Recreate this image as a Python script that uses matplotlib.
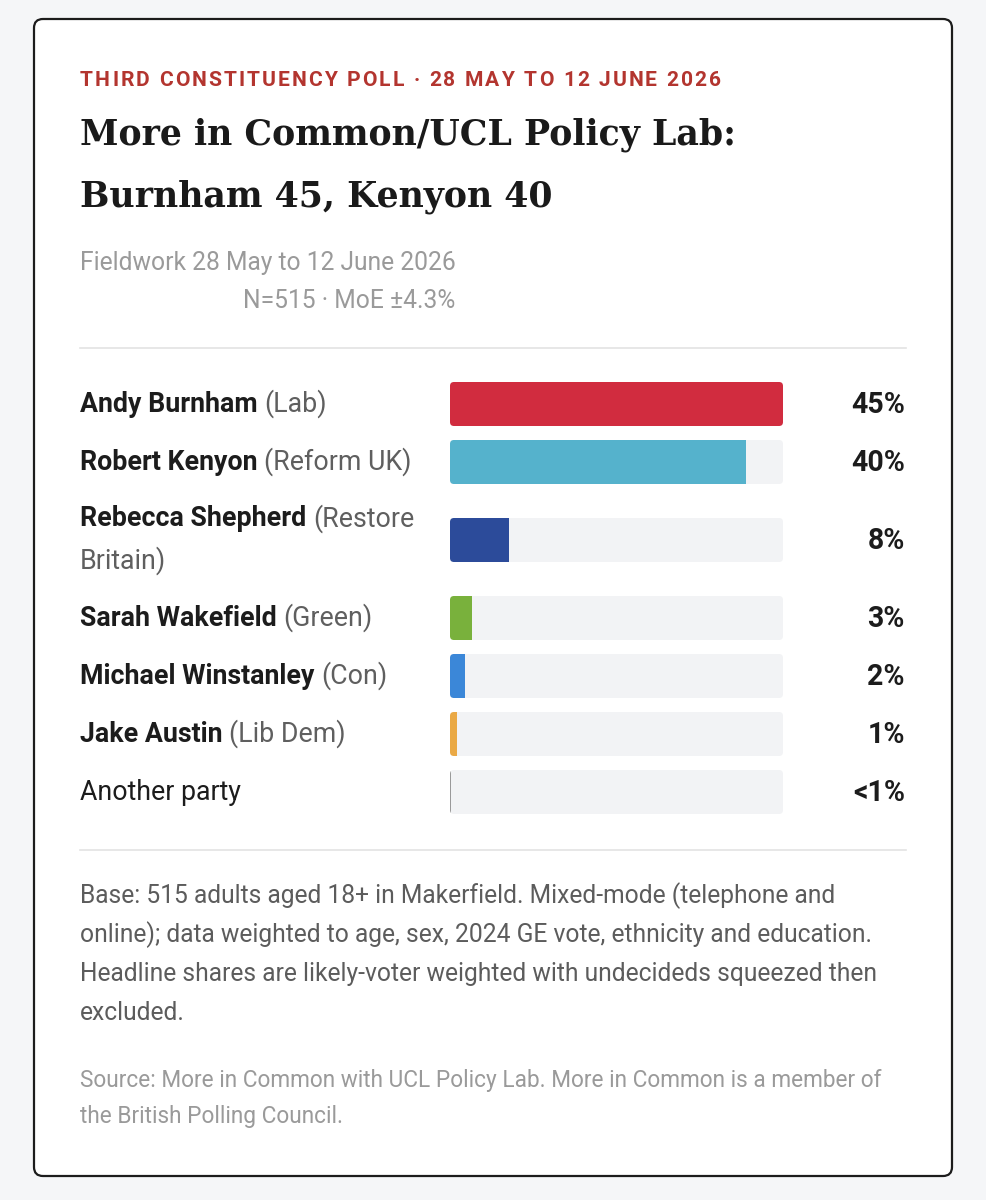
import matplotlib
matplotlib.use('Agg')
import matplotlib.pyplot as plt
from matplotlib import font_manager
from matplotlib.ft2font import FT2Font
from matplotlib.patches import FancyBboxPatch

# Poll figures
candidates = ['Andy Burnham', 'Robert Kenyon', 'Rebecca Shepherd', 'Sarah Wakefield',
              'Michael Winstanley', 'Jake Austin', 'Another party']
parties = ['Lab', 'Reform UK', 'Restore Britain', 'Green', 'Con', 'Lib Dem', None]
shares = [45, 40, 8, 3, 2, 1, 0.2]
share_labels = ['45%', '40%', '8%', '3%', '2%', '1%', '<1%']
party_colours = ['#d12c3f', '#55b2cc', '#2c4b9a', '#79b13c', '#3b87d8', '#eaa945', '#9a9a9a']

kicker = 'THIRD CONSTITUENCY POLL · 28 MAY TO 12 JUNE 2026'
title_lines = ['More in Common/UCL Policy Lab:', 'Burnham 45, Kenyon 40']
fieldwork = 'Fieldwork 28 May to 12 June 2026'
sample_note = 'N=515 · MoE ±4.3%'
base_note = ['Base: 515 adults aged 18+ in Makerfield. Mixed-mode (telephone and',
             'online); data weighted to age, sex, 2024 GE vote, ethnicity and education.',
             'Headline shares are likely-voter weighted with undecideds squeezed then',
             'excluded.']
source_note = ['Source: More in Common with UCL Policy Lab. More in Common is a member of',
               'the British Polling Council.']

W, H = 986, 1200
LEFT, RIGHT = 80, 906
BAR_X0, BAR_X1 = 450, 783


def pt(px):
    return px * 0.72


fig = plt.figure(figsize=(W / 100, H / 100), dpi=100)
fig.patch.set_facecolor('#f5f6f8')
ax = fig.add_axes([0, 0, 1, 1])
ax.set_xlim(0, W)
ax.set_ylim(H, 0)
ax.axis('off')
renderer = fig.canvas.get_renderer()

card = FancyBboxPatch((34, 19), 918, 1157, boxstyle='round,pad=0,rounding_size=9',
                      fc='white', ec='#1c1c1c', lw=1.6, zorder=0)
ax.add_patch(card)


def right_edge(t):
    bb = t.get_window_extent(renderer)
    return ax.transData.inverted().transform((bb.x1, bb.y1))[0]


# kicker is letter-spaced, so place it glyph by glyph
kick_px = 21
kick_font = FT2Font(font_manager.findfont(font_manager.FontProperties(family='Roboto', weight='bold')))
kick_font.set_size(pt(kick_px), 100)
x = LEFT
for ch in kicker:
    ax.text(x, 86, ch, family='Roboto', fontweight='bold', fontsize=pt(kick_px),
            color='#b3352f', va='baseline')
    x += kick_font.load_char(ord(ch)).linearHoriAdvance / 65536 + 2.1

for i, line in enumerate(title_lines):
    ax.text(LEFT, 145 + i * 62, line, family='DejaVu Serif', fontweight='bold',
            fontsize=pt(34.8), color='#1a1a1a', va='baseline')
fw = ax.text(LEFT, 270, fieldwork, family='Roboto', fontsize=pt(24.6), color='#9a9a9a',
             va='baseline')
ax.text(right_edge(fw), 308, sample_note, family='Roboto', fontsize=pt(24.6),
        color='#9a9a9a', va='baseline', ha='right')

ax.plot([LEFT, RIGHT], [348, 348], color='#e3e3e3', lw=1.2)
ax.plot([LEFT, RIGHT], [850, 850], color='#e3e3e3', lw=1.2)

# labels, wrapped to the space left of the bars
label_fs = pt(26.7)
space_w = (ax.text(0, 0, 'a a', family='Roboto', fontsize=label_fs).get_window_extent(renderer).width
           - ax.text(0, 0, 'aa', family='Roboto', fontsize=label_fs).get_window_extent(renderer).width)
for t in list(ax.texts[-2:]):
    t.remove()


def draw_words(x, y, words, plain=False, keep=True):
    runs = []
    for word, weight in words:
        if runs and runs[-1][1] == weight:
            runs[-1][0] += ' ' + word
        else:
            runs.append([word, weight])
    start = x
    for text, weight in runs:
        colour = '#1c1c1c' if weight == 'bold' or plain else '#5f5f5f'
        t = ax.text(x, y, text, family='Roboto', fontsize=label_fs, fontweight=weight,
                    color=colour, va='baseline')
        x = right_edge(t) + space_w
        if not keep:
            t.remove()
    return x - space_w - start


row_lines = []
for name, party in zip(candidates, parties):
    if party is None:
        words = [(w, 'normal') for w in name.split()]
    else:
        words = [(w, 'bold') for w in name.split()] + [(w, 'normal') for w in f'({party})'.split()]
    lines = [[]]
    for word in words:
        trial = lines[-1] + [word]
        if lines[-1] and draw_words(LEFT, 0, trial, keep=False) > BAR_X0 - LEFT - 25:
            lines.append([word])
        else:
            lines[-1] = trial
    row_lines.append(lines)

row_heights = [58 + 40 * (len(lines) - 1) for lines in row_lines]
centres = []
top = 375
for h in row_heights:
    centres.append(top + h / 2)
    top += h

for lines, c, party in zip(row_lines, centres, parties):
    n = len(lines)
    for j, words in enumerate(lines):
        draw_words(LEFT, c + 7.5 + (j - (n - 1) / 2) * 42.5, words, plain=party is None)

for lab, c in zip(share_labels, centres):
    ax.text(905, c + 9, lab, family='Roboto', fontweight='bold', fontsize=pt(28.5),
            color='#1c1c1c', va='baseline', ha='right')

# bars
bx = fig.add_axes([BAR_X0 / W, 0, (BAR_X1 - BAR_X0) / W, 1])
bx.set_xlim(0, max(shares))
bx.set_ylim(H, 0)
bx.axis('off')
bar_h = 44
x_per_px = max(shares) / (BAR_X1 - BAR_X0)
radius_px = 4
fills = bx.barh(centres, shares, height=bar_h, color=party_colours, zorder=2)
for rect, c in zip(fills, centres):
    track = FancyBboxPatch((0, c - bar_h / 2), max(shares), bar_h,
                           boxstyle=f'round,pad=0,rounding_size={radius_px * x_per_px}',
                           mutation_aspect=1 / x_per_px, fc='#f2f3f5', ec='none', zorder=1)
    bx.add_patch(track)
    rect.set_clip_path(track)

for i, line in enumerate(base_note):
    ax.text(LEFT, 903 + i * 39, line, family='Roboto', fontsize=pt(24.6), color='#5c5c5c',
            va='baseline')
for i, line in enumerate(source_note):
    ax.text(LEFT, 1087 + i * 35.5, line, family='Roboto', fontsize=pt(22.6), color='#9a9a9a',
            va='baseline')

fig.savefig('out.png', dpi=100, facecolor=fig.get_facecolor())
